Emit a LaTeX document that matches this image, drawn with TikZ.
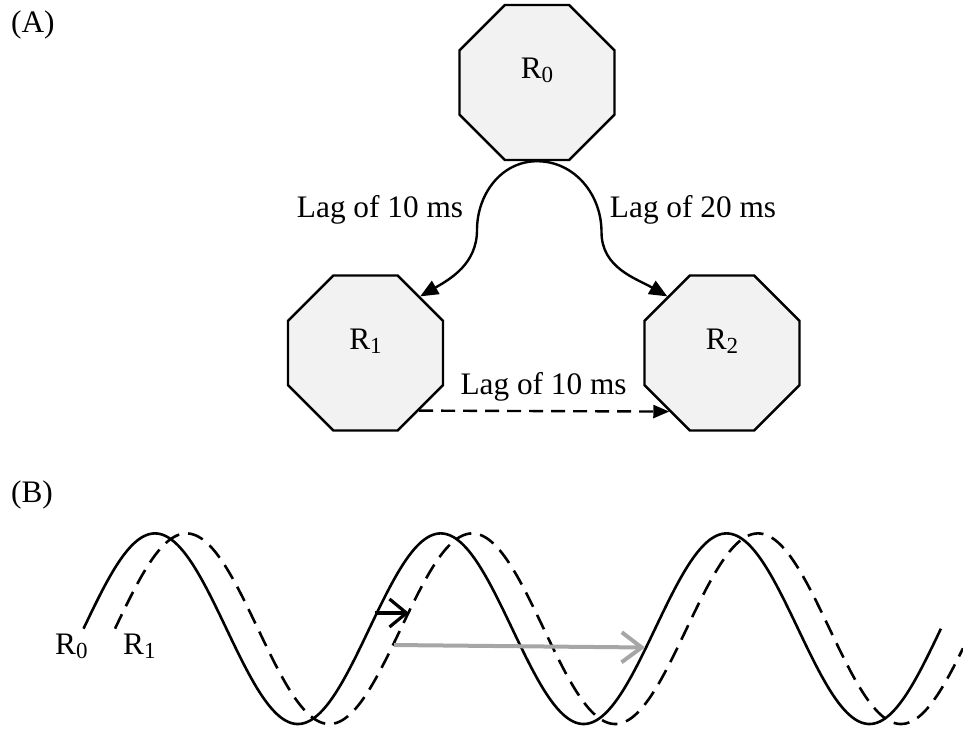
\documentclass[tikz,border=0pt]{standalone}
\usepackage{fontspec}
\setmainfont{Liberation Serif}
\usetikzlibrary{shapes.geometric,arrows.meta}
\definecolor{octfill}{HTML}{F2F2F2}
\definecolor{lagray}{HTML}{A6A6A6}
\newcommand{\rsub}[1]{R\raisebox{-4pt}{\fontsize{23}{23}\selectfont #1}}
\begin{document}
\begin{tikzpicture}[x=1pt,y=-1pt,
  every node/.style={font=\fontsize{31.3}{36}\selectfont, inner sep=0pt},
  octa/.style={regular polygon, regular polygon sides=8, minimum size=167.8pt,
    inner sep=0pt, draw=black, line width=2.4pt, fill=octfill},
  octlabel/.style={label={[yshift=12pt]center:#1}},
  lagarrow/.style={line width=2.4pt, -{Triangle[length=18pt,width=15pt]}},
  dasharrow/.style={line width=2.4pt, dash pattern=on 14pt off 8pt,
    -{Triangle[length=16pt,width=13pt]}},
  wave/.style={line width=2.6pt},
  wavedash/.style={line width=2.6pt, dash pattern=on 16pt off 9pt},
  shiftarrow/.style={line width=3.2pt, -{Straight Barb[length=17pt,width=28pt]}},
  grayarrow/.style={line width=4pt, draw=lagray, -{Straight Barb[length=20pt,width=30pt]}}
]
\useasboundingbox (0,0) rectangle (963,728);

% (A) graph
\node[octa, octlabel={\rsub{0}}] (R0) at (537,82.5) {};
\node[octa, octlabel={\rsub{1}}] (R1) at (365.5,353) {};
\node[octa, octlabel={\rsub{2}}] (R2) at (722,353) {};

\coordinate (cl) at (477,230);
\coordinate (cr) at (601.5,232);
\draw[lagarrow] (R0.south) to[out=180,in=90] (cl) to[out=-90,in=30] (R1.46);
\draw[lagarrow] (R0.south) to[out=0,in=90] (cr) to[out=-90,in=150] (R2.134);
\draw[dasharrow] (R1.-47.3) -- (R2.-132.7);

\node[anchor=base] (lag01) at (380,217) {Lag of 10 ms};
\node[anchor=base] (lag02) at (693,217) {Lag of 20 ms};
\node[anchor=base] (lag12) at (543.6,394) {Lag of 10 ms};

\node[anchor=base west] (labA) at (11,32) {(A)};
\node[anchor=base west] (labB) at (11,502) {(B)};

% (B) waves
\draw[wave] plot[domain=83.5:940.9, samples=400]
  (\x,{628.7-95.3*sin((\x-83.5)*1.259622)});
\draw[wavedash] plot[domain=115:963, samples=400]
  (\x,{628.7-95.3*sin((\x-115)*1.259622)});

\node[anchor=base west] (w0) at (55,654) {\rsub{0}};
\node[anchor=base west] (w1) at (123,654) {\rsub{1}};

\coordinate (a1) at (375,613);
\coordinate (a2) at (409,613);
\draw[shiftarrow] (a1) -- (a2);
\coordinate (g1) at (394,645);
\coordinate (g2) at (645,647.5);
\draw[grayarrow] (g1) -- (g2);
\end{tikzpicture}
\end{document}
